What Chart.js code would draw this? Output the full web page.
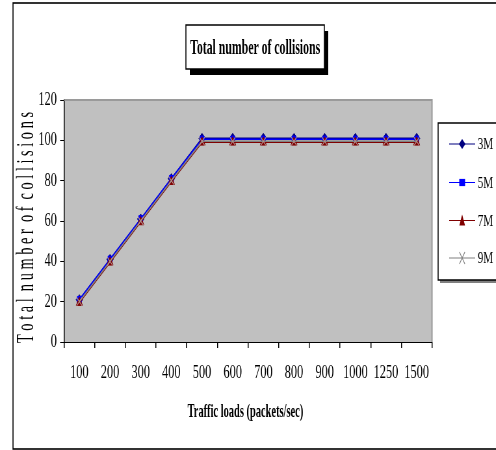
<!DOCTYPE html>
<html><head><meta charset="utf-8">
<style>
html,body{margin:0;padding:0;background:#fff;overflow:hidden;}
#wrap{width:763px;height:450px;transform:scaleX(0.65);transform-origin:0 0;}
canvas{display:block;}
</style>
<script src="https://cdn.jsdelivr.net/npm/chart.js@4/dist/chart.umd.min.js"></script>
</head><body><div id="wrap"><canvas id="c" width="763" height="450"></canvas></div>
<script>
const categories = ['100','200','300','400','500','600','700','800','900','1000','1250','1500'];
const seriesNames = ['3M','5M','7M','9M'];
const series3M = [21,41,61,81,101,101,101,101,101,101,101,101];
const series5M = [21,41,61,81,100.5,100.5,100.5,100.5,100.5,100.5,100.5,100.5];
const series7M = [19.5,39.5,59.5,79.5,99,99,99,99,99,99,99,99];
const series9M = [20,40,60,80,99.5,99.5,99.5,99.5,99.5,99.5,99.5,99.5];
const yTicks = {min:0, max:120, step:20};
const chartTitle = 'Total number of collisions';
const xTitle = 'Traffic loads (packets/sec)';
const yTitle = 'T o t a l  n u m b e r  o f  c o l l i s i o n s';

const FAM = "'Liberation Serif','Times New Roman',serif";
const SX = 0.65;

const styles = [
  {color:'#000080', point:'rectRot', r:5, order:3},
  {color:'#0000FF', point:'rect', r:4.5, order:2},
  {color:'#800000', point:'triangle', r:5.5, order:1},
  {color:'#808080', point:'crossRot', r:6, order:0}
];
const allSeries = [series3M, series5M, series7M, series9M];

function drawMarker(ctx, style, x, y){
  ctx.save();
  ctx.fillStyle = style.color; ctx.strokeStyle = style.color; ctx.lineWidth = 1.2;
  const r = style.r;
  ctx.beginPath();
  if (style.point === 'rectRot') {
    ctx.moveTo(x, y-r); ctx.lineTo(x+r, y); ctx.lineTo(x, y+r); ctx.lineTo(x-r, y); ctx.closePath(); ctx.fill();
  } else if (style.point === 'rect') {
    ctx.rect(x-r, y-r*0.8, 2*r, 1.6*r); ctx.fill();
  } else if (style.point === 'triangle') {
    ctx.moveTo(x, y-r*1.1); ctx.lineTo(x+r*0.8, y+r*0.9); ctx.lineTo(x-r*0.8, y+r*0.9); ctx.closePath(); ctx.fill();
  } else {
    ctx.moveTo(x-r*0.7, y-r); ctx.lineTo(x+r*0.7, y+r);
    ctx.moveTo(x+r*0.7, y-r); ctx.lineTo(x-r*0.7, y+r); ctx.stroke();
  }
  ctx.restore();
}

const decor = {
  id:'decor',
  beforeDraw(chart){
    const ctx = chart.ctx, a = chart.chartArea;
    ctx.save();
    ctx.fillStyle = '#fff'; ctx.fillRect(0,0,chart.width,chart.height);
    ctx.strokeStyle = '#000'; ctx.lineWidth = 1.6;
    ctx.strokeRect(20, 3, 900, 446);
    ctx.fillStyle = '#C0C0C0';
    ctx.fillRect(a.left, a.top, a.right-a.left, a.bottom-a.top);
    ctx.restore();
  },
  beforeDatasetsDraw(chart){
    const ctx = chart.ctx, a = chart.chartArea;
    ctx.save();
    ctx.strokeStyle = '#9a9a9a'; ctx.lineWidth = 2;
    ctx.beginPath(); ctx.moveTo(a.left, a.top); ctx.lineTo(a.right, a.top); ctx.lineTo(a.right, a.bottom); ctx.stroke();
    ctx.restore();
  },
  afterDraw(chart){
    const ctx = chart.ctx;
    ctx.save();
    const bx = 286, by = 25, bw = 213, bh = 44;
    ctx.fillStyle = '#000'; ctx.fillRect(bx+6, by+6, bw, bh);
    ctx.fillStyle = '#fff'; ctx.fillRect(bx, by, bw, bh);
    ctx.strokeStyle = '#000'; ctx.lineWidth = 1.5; ctx.strokeRect(bx, by, bw, bh);
    ctx.fillStyle = '#000';
    ctx.font = 'bold 22px ' + FAM; ctx.textAlign = 'center'; ctx.textBaseline = 'middle';
    let w = ctx.measureText(chartTitle).width;
    ctx.save(); ctx.translate(bx + bw/2, by + bh/2 + 1); ctx.scale(200 / w, 1); ctx.fillText(chartTitle, 0, 0); ctx.restore();
    ctx.font = 'bold 19px ' + FAM;
    w = ctx.measureText(xTitle).width;
    ctx.save(); ctx.translate((chart.chartArea.left + chart.chartArea.right)/2 - 4, 412); ctx.scale(178 / w, 1); ctx.fillText(xTitle, 0, 0); ctx.restore();
    ctx.font = '19px ' + FAM;
    w = ctx.measureText(yTitle).width;
    ctx.save(); ctx.translate(41.5, 227.5); ctx.rotate(-Math.PI/2); ctx.scale(231 / w, 1.3/SX); ctx.fillText(yTitle, 0, 0); ctx.restore();
    const lx = 674, ly = 123, lh = 157;
    ctx.fillStyle = '#808080'; ctx.fillRect(lx+3, ly+3, 200, lh);
    ctx.fillStyle = '#fff'; ctx.fillRect(lx, ly, 200, lh);
    ctx.strokeStyle = '#000'; ctx.lineWidth = 1.5; ctx.strokeRect(lx, ly, 200, lh);
    const ys = [144, 182.5, 220.5, 258];
    ctx.font = '17px ' + FAM; ctx.textAlign = 'left'; ctx.textBaseline = 'middle';
    seriesNames.forEach((n, i) => {
      const st = styles[i];
      ctx.strokeStyle = st.color; ctx.lineWidth = 1.2;
      ctx.beginPath(); ctx.moveTo(691, ys[i]); ctx.lineTo(731, ys[i]); ctx.stroke();
      drawMarker(ctx, st, 711, ys[i]);
      ctx.fillStyle = '#000'; ctx.fillText(n, 735, ys[i] + 1);
    });
    ctx.restore();
  }
};

const datasets = seriesNames.map((n, i) => ({
  label: n,
  data: allSeries[i],
  borderColor: styles[i].color,
  backgroundColor: styles[i].color,
  borderWidth: 1.5,
  pointStyle: styles[i].point,
  pointRadius: styles[i].r,
  pointBorderWidth: i === 3 ? 1.2 : 1,
  pointBorderColor: i === 3 ? '#b09090' : styles[i].color,
  pointBackgroundColor: styles[i].color,
  tension: 0,
  order: styles[i].order
}));

new Chart(document.getElementById('c'), {
  type:'line',
  data:{labels: categories, datasets},
  plugins:[decor],
  options:{
    responsive:false, animation:false, devicePixelRatio:1,
    layout:{padding:{left:0, top:100, right:98.4, bottom:0}},
    plugins:{legend:{display:false}, title:{display:false}, tooltip:{enabled:false}},
    scales:{
      x:{
        type:'category', offset:true,
        grid:{offset:true, drawOnChartArea:false, drawTicks:true, tickLength:6, color:'#000', lineWidth:1.5},
        border:{color:'#000', width:1},
        ticks:{font:{family:FAM, size:19}, color:'#000', padding:14, maxRotation:0, autoSkip:false},
        afterFit(s){ s.height = 108; }
      },
      y:{
        min:yTicks.min, max:yTicks.max,
        ticks:{stepSize:yTicks.step, font:{family:FAM, size:19}, color:'#000', padding:5},
        grid:{drawOnChartArea:false, drawTicks:true, tickLength:6, color:'#000', lineWidth:1},
        border:{color:'#000', width:1.5},
        afterFit(s){ s.width = 98.5; }
      }
    }
  }
});
</script>
</body></html>
